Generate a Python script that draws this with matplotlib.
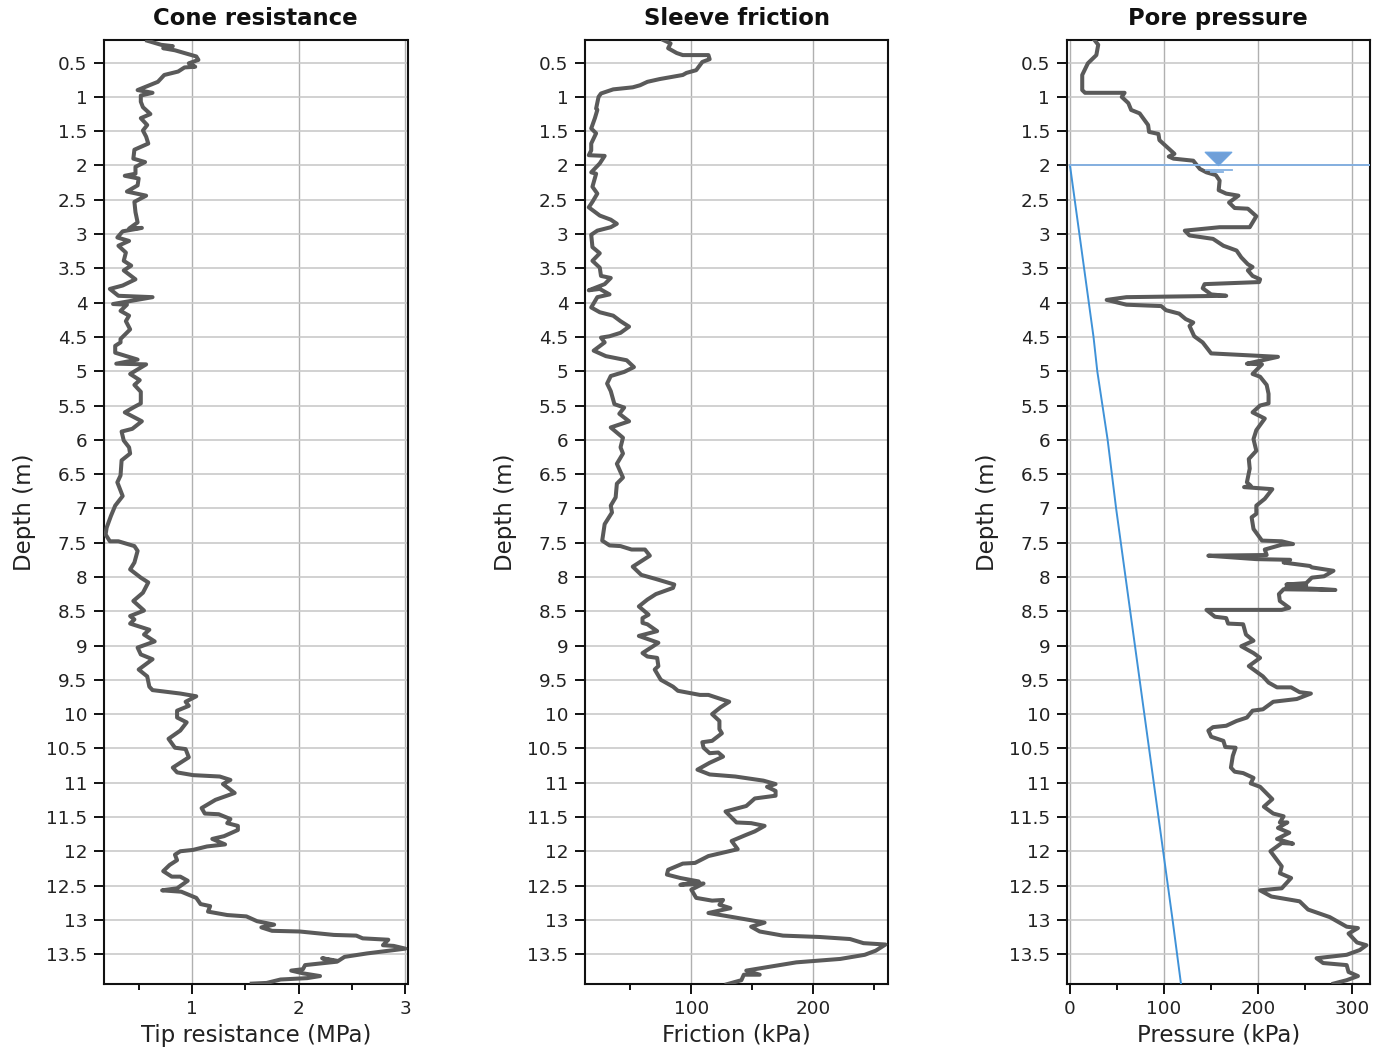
import matplotlib
matplotlib.use("Agg")
import matplotlib.pyplot as plt
from matplotlib.path import Path
from matplotlib.ticker import FixedLocator, FixedFormatter

cone_depth = [0.18,0.24,0.26,0.29,0.32,0.41,0.46,0.51,0.56,0.57,0.63,0.68,0.78,0.83,0.90,0.94,0.98,1.07,1.15,1.25,1.31,1.41,1.49,1.58,1.68,1.77,1.90,1.95,2.02,2.12,2.15,2.19,2.29,2.38,2.44,2.53,2.68,2.83,2.92,2.91,2.96,3.05,3.10,3.17,3.27,3.39,3.46,3.53,3.66,3.75,3.80,3.90,3.92,4.02,4.03,4.12,4.19,4.27,4.39,4.53,4.58,4.63,4.73,4.83,
 4.89,4.90,5.04,5.13,5.20,5.30,5.47,5.52,5.60,5.73,5.84,5.88,6.01,6.11,6.20,6.30,6.52,6.62,6.74,6.82,6.96,7.11,7.28,7.38,7.48,7.48,7.55,7.62,7.79,7.89,8.01,8.08,8.23,8.35,8.49,8.57,8.62,8.68,8.77,8.84,8.94,9.03,9.13,9.20,9.35,9.45,9.60,9.65,9.70,9.74,
 9.82,9.88,9.95,10.05,10.12,10.24,10.36,10.49,10.51,10.63,10.78,10.85,10.89,10.91,10.96,11.02,11.15,11.25,11.37,11.45,11.46,11.53,11.59,11.63,11.69,11.78,11.82,11.90,11.93,11.98,12.00,12.05,12.13,12.20,12.29,12.37,12.37,12.43,12.54,12.57,12.59,12.68,12.77,12.80,12.88,12.93,12.95,13.02,13.07,13.11,13.16,13.17,13.22,13.23,13.27,13.29,13.37,13.38,13.42,13.49,13.54,13.60,13.56,13.61,13.66,13.72,13.74,13.78,13.82,13.85,13.87,13.92,13.93]
cone_tip = [0.58,0.71,0.82,0.73,0.84,1.04,1.06,0.97,1.03,0.93,0.87,0.74,0.68,0.60,0.49,0.63,0.52,0.52,0.54,0.61,0.52,0.58,0.54,0.57,0.59,0.46,0.45,0.56,0.47,0.47,0.37,0.50,0.49,0.39,0.57,0.46,0.47,0.49,0.41,0.53,0.35,0.30,0.41,0.31,0.38,0.36,0.43,0.36,0.47,0.35,0.23,0.31,0.63,0.26,0.39,0.33,0.41,0.38,0.42,0.33,0.33,0.28,0.28,0.49,
 0.29,0.57,0.42,0.51,0.46,0.52,0.52,0.46,0.37,0.53,0.44,0.34,0.36,0.41,0.42,0.34,0.33,0.30,0.33,0.35,0.28,0.24,0.20,0.19,0.23,0.31,0.46,0.49,0.46,0.42,0.52,0.59,0.54,0.45,0.55,0.42,0.46,0.42,0.60,0.55,0.65,0.49,0.52,0.63,0.50,0.58,0.60,0.63,0.89,1.04,
 0.94,0.97,0.86,0.86,0.95,0.89,0.78,0.84,0.94,0.97,0.82,0.86,1.01,1.26,1.36,1.29,1.40,1.22,1.09,1.12,1.25,1.36,1.33,1.43,1.43,1.30,1.19,1.31,1.14,1.01,0.89,0.84,0.86,0.79,0.73,0.81,0.89,0.96,0.86,0.72,0.90,1.04,1.08,1.17,1.15,1.33,1.51,1.61,1.77,1.65,1.75,2.01,2.33,2.54,2.60,2.84,2.79,2.89,3.00,2.64,2.43,2.37,2.22,2.36,2.06,2.04,1.93,2.04,2.20,2.08,1.83,1.70,1.56]

sleeve_depth = [0.17,0.22,0.29,0.36,0.39,0.39,0.45,0.49,0.61,0.65,0.68,0.74,0.78,0.83,0.86,0.89,0.95,1.00,1.17,1.19,1.31,1.46,1.53,1.68,1.78,1.85,1.86,1.97,2.10,2.12,2.31,2.41,2.53,2.61,2.73,2.79,2.85,2.90,2.95,3.01,3.19,3.28,3.39,3.49,3.61,3.64,3.73,3.82,3.80,3.88,3.92,4.07,4.14,4.19,4.27,4.35,4.44,4.49,4.51,4.58,4.70,4.78,4.84,
 4.94,5.01,5.07,5.18,5.29,5.42,5.48,5.53,5.62,5.73,5.82,5.97,6.11,6.20,6.35,6.55,6.64,6.84,6.96,7.06,7.23,7.47,7.54,7.55,7.60,7.60,7.69,7.85,7.97,8.03,8.11,8.16,8.25,8.33,8.43,8.55,8.60,8.67,8.69,8.79,8.86,8.96,9.11,9.16,9.18,9.30,9.35,9.50,9.60,9.66,9.72,9.72,
 9.82,9.90,10.00,10.10,10.22,10.28,10.39,10.41,10.49,10.57,10.56,10.62,10.71,10.81,10.88,10.91,10.97,11.02,11.06,11.12,11.19,11.23,11.34,11.42,11.58,11.59,11.63,11.71,11.76,11.85,11.97,12.07,12.17,12.18,12.27,12.34,12.39,12.44,12.49,12.47,12.56,12.68,12.72,12.71,12.78,12.83,12.90,12.96,13.04,13.10,13.17,13.23,13.25,13.28,13.34,13.36,13.45,13.51,13.57,13.62,13.69,13.74,13.80,13.80,13.88,13.94]
sleeve_friction = [77,83,81,88,93,114,115,109,104,96,93,74,64,58,52,36,26,24,22,23,21,18,22,18,18,16,29,25,18,22,19,23,19,16,25,34,39,34,23,18,19,25,19,25,26,34,29,16,25,33,23,18,25,36,42,49,42,33,26,29,20,30,47,
 53,45,34,31,34,36,37,45,41,49,34,44,42,44,39,44,39,38,34,35,29,27,33,42,51,62,66,52,59,71,86,85,71,64,57,65,60,60,64,72,57,73,60,64,72,73,70,75,85,89,107,114,
 131,124,117,123,123,125,117,109,110,115,122,126,115,105,115,136,159,169,162,169,169,152,145,128,137,149,160,152,145,133,138,114,103,93,81,80,91,106,91,110,100,104,117,126,123,132,114,134,160,149,156,175,205,230,241,259,251,242,222,186,162,145,156,143,141,129]

pore_depth = [0.17,0.24,0.39,0.51,0.68,0.90,0.94,0.94,1.00,1.09,1.19,1.24,1.41,1.51,1.54,1.63,1.73,1.83,1.87,1.90,1.93,2.05,2.10,2.14,2.22,2.36,2.41,2.44,2.54,2.62,2.63,2.74,2.90,2.90,2.95,3.02,3.07,3.17,3.24,3.34,3.44,3.48,3.53,3.61,3.66,3.70,3.73,3.79,3.88,3.90,3.92,3.96,4.03,4.05,4.11,4.16,4.24,4.29,4.34,4.49,4.58,4.74,4.79,
 4.89,4.90,5.04,5.08,5.20,5.33,5.47,5.50,5.60,5.69,5.86,5.99,6.16,6.28,6.42,6.62,6.67,6.69,6.72,6.86,6.96,7.08,7.13,7.30,7.47,7.48,7.52,7.53,7.60,7.68,7.69,7.74,7.75,7.79,7.84,7.86,7.91,7.99,8.01,8.09,8.11,8.12,8.15,8.19,8.18,8.25,8.35,8.45,8.48,8.48,8.58,8.60,8.68,8.69,8.84,8.93,9.01,9.11,9.18,9.30,9.45,9.54,9.61,9.61,9.68,9.70,
 9.78,9.82,9.93,9.95,10.05,10.10,10.17,10.19,10.24,10.33,10.39,10.48,10.49,10.61,10.78,10.84,10.86,10.93,11.01,11.06,11.24,11.35,11.45,11.49,11.58,11.58,11.66,11.73,11.82,11.89,11.88,12.00,12.22,12.32,12.39,12.54,12.57,12.66,12.73,12.85,12.96,13.10,13.12,13.20,13.33,13.37,13.44,13.51,13.56,13.63,13.66,13.76,13.82,13.88,13.93]
pore_pressure = [26,30,28,19,13,13,16,58,55,62,65,74,83,84,94,95,103,111,105,110,131,138,145,155,159,158,166,179,169,175,189,198,191,159,122,127,152,163,177,182,189,194,189,194,202,201,143,141,150,166,60,39,60,97,102,116,123,131,127,132,141,150,221,
 188,204,194,202,209,211,211,202,194,207,198,195,198,190,191,188,192,185,215,207,198,198,193,195,204,225,237,225,207,209,147,198,234,227,255,257,280,270,257,251,230,251,230,282,227,222,223,233,225,145,154,166,168,184,187,195,182,195,202,190,205,211,220,235,244,256,
 241,216,205,194,188,177,166,152,147,150,163,165,176,173,171,175,184,195,192,202,215,206,216,227,223,231,221,233,220,237,225,213,225,223,235,225,202,214,244,253,276,294,306,296,305,315,308,294,262,269,294,296,306,294,280]

hydro_depth = [2.0,2.5,3.0,3.5,4.0,4.5,5.0,6.0,7.0,7.5,8.0,9.0,10.0,11.0,12.0,13.0,13.94]
hydro_pressure = [0,5,10,15,20,25,29,40,49,54,59,69,79,89,99,109,118]

water_depth = 2.0
water_mark_pressure = 157
water_dash_depths = [2.06, 2.10]
water_dash_from = [145, 150]
water_dash_to = [172, 163]

depth_ticks = [0.5,1,1.5,2,2.5,3,3.5,4,4.5,5,5.5,6,6.5,7,7.5,8,8.5,9,9.5,10,10.5,11,11.5,12,12.5,13,13.5]
depth_labels = ["0.5","1","1.5","2","2.5","3","3.5","4","4.5","5","5.5","6","6.5","7","7.5","8","8.5","9","9.5","10","10.5","11","11.5","12","12.5","13","13.5"]

plt.rcParams['font.family'] = ['DejaVu Sans']
W, H = 1386, 1050
fig = plt.figure(figsize=(W/100, H/100), dpi=100, facecolor='white')

panels = [
    (104, 407.5, "Cone resistance", "Tip resistance (MPa)", (0.175, 3.02), [1,2,3], ["1","2","3"], [0.5,1.5,2.5], cone_tip, cone_depth),
    (585, 888.5, "Sleeve friction", "Friction (kPa)", (12.9, 261.5), [100,200], ["100","200"], [50,150,250], sleeve_friction, sleeve_depth),
    (1066.7, 1370, "Pore pressure", "Pressure (kPa)", (-3.5, 318.8), [0,100,200,300], ["0","100","200","300"], [50,150,250], pore_pressure, pore_depth),
]
TOP, BOT = 40, 984.3
for left, right, title, xlabel, xlim, xt, xl, xm, vals, deps in panels:
    ax = fig.add_axes([left/W, 1-BOT/H, (right-left)/W, (BOT-TOP)/H])
    ax.set_xlim(*xlim)
    ax.set_ylim(13.94, 0.17)
    ax.yaxis.set_major_locator(FixedLocator(depth_ticks))
    ax.yaxis.set_major_formatter(FixedFormatter(depth_labels))
    ax.xaxis.set_major_locator(FixedLocator(xt))
    ax.xaxis.set_major_formatter(FixedFormatter(xl))
    ax.xaxis.set_minor_locator(FixedLocator(xm))
    ax.grid(True, axis='y', color='#c9c9c9', lw=1.2, zorder=1)
    ax.grid(True, axis='x', which='major', color='#b0b0b0', lw=1.0, zorder=1)
    ax.set_axisbelow(True)
    ax.tick_params(axis='y', which='major', length=7, width=1.4, labelsize=13.2, color='#111111', labelcolor='#222222', pad=5)
    ax.tick_params(axis='x', which='major', length=7, width=1.4, labelsize=13.2, color='#111111', labelcolor='#222222', pad=4)
    ax.tick_params(axis='x', which='minor', length=4, width=1.4, color='#111111')
    for s in ax.spines.values():
        s.set_linewidth(1.5)
        s.set_color('#111111')
    ax.plot(vals, deps, color='#5a5a5a', lw=2.9, solid_joinstyle='round', zorder=3)
    ax.set_title(title, fontsize=16.4, fontweight='bold', color='#111111', pad=11)
    ax.set_xlabel(xlabel, fontsize=16.5, color='#222222')
    ax.xaxis.set_label_coords(0.5, -0.042)
    ax.set_ylabel("Depth (m)", fontsize=16.5, color='#222222')
    ax.yaxis.set_label_coords(-0.224, 0.5)
    if title == "Pore pressure":
        ax.plot(hydro_pressure, hydro_depth, color='#3f92d8', lw=1.4, zorder=4)
        ax.plot([0, xlim[1]], [water_depth, water_depth], color='#84b0e0', lw=1.4, zorder=4)
        tri = Path([(-1, 1), (1, 1), (0, 0), (-1, 1)], closed=True)
        ax.plot([water_mark_pressure], [water_depth], marker=tri, ms=19, mfc='#6f9fd8', mec='#6fa5e0', mew=1.0, ls='none', zorder=5)
        for d, a, b in zip(water_dash_depths, water_dash_from, water_dash_to):
            ax.plot([a, b], [d, d], color='#84b0e0', lw=1.3, zorder=5)

fig.savefig("out.png", dpi=100)
